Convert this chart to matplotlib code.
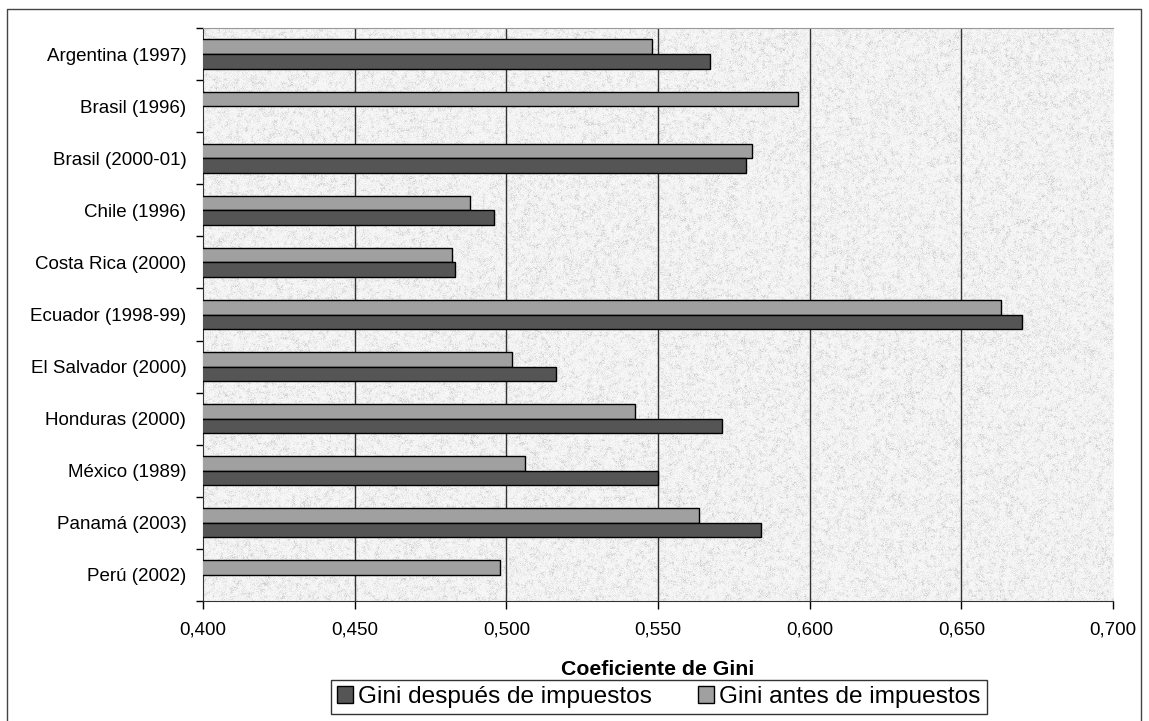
### Gini coefficient before and after taxes, horizontal bar chart
import numpy as np
import matplotlib
matplotlib.use('Agg')
import matplotlib.pyplot as plt
from matplotlib.patches import Patch
from matplotlib.lines import Line2D
from matplotlib.ticker import FuncFormatter, FixedLocator

plt.rcParams['font.family'] = ['Liberation Sans', 'DejaVu Sans']

## Data
paises = ['Argentina (1997)', 'Brasil (1996)', 'Brasil (2000-01)', 'Chile (1996)',
          'Costa Rica (2000)', 'Ecuador (1998-99)', 'El Salvador (2000)',
          'Honduras (2000)', 'México (1989)', 'Panamá (2003)', 'Perú (2002)']
gini_antes = [0.548, 0.596, 0.581, 0.488, 0.482, 0.663, 0.502, 0.5425, 0.506, 0.5635, 0.498]
gini_despues = [0.567, np.nan, 0.579, 0.496, 0.483, 0.670, 0.5165, 0.571, 0.550, 0.584, np.nan]
x_ticks = [0.400, 0.450, 0.500, 0.550, 0.600, 0.650, 0.700]

## Figure and axes
fig = plt.figure(figsize=(11.49, 7.21), dpi=100)
ax = fig.add_axes([0.1767, 0.1664, 0.792, 0.7948])

x0, x1 = x_ticks[0], x_ticks[-1]
n = len(paises)

## Granite-like grey background texture
rng = np.random.default_rng(7)
fine = rng.random((573, 910))
coarse = rng.random((191, 304))
coarse = np.kron(coarse, np.ones((3, 3)))[:573, :910]
k = np.ones(3) / 3.0
coarse = np.apply_along_axis(lambda r: np.convolve(r, k, mode='same'), 1, coarse)
coarse = np.apply_along_axis(lambda c: np.convolve(c, k, mode='same'), 0, coarse)
tex = 0.55 * fine + 0.45 * coarse
tex = (tex - tex.min()) / (tex.max() - tex.min())
tex = 0.97 - 0.20 * tex ** 3
ax.imshow(tex, cmap='gray', vmin=0, vmax=1, extent=(x0, x1, n - 0.5, -0.5),
          aspect='auto', interpolation='nearest', zorder=0)

## Bars
h = 0.28
y = np.arange(n)
ax.barh(y - h / 2, gini_antes, height=h, left=0, color='#a0a0a0',
        edgecolor='black', linewidth=1.0, zorder=3)
ax.barh(y + h / 2, gini_despues, height=h, left=0, color='#555555',
        edgecolor='black', linewidth=1.0, zorder=3)

## Axes limits and grid
ax.set_xlim(x0, x1)
ax.set_ylim(n - 0.5, -0.5)
for xv in x_ticks[1:-1]:
    ax.axvline(xv, color='#333333', linewidth=1.0, zorder=1)

## Ticks
ax.set_xticks(x_ticks)
ax.xaxis.set_major_formatter(FuncFormatter(lambda v, p: ('%.3f' % v).replace('.', ',')))
ax.tick_params(axis='x', direction='out', length=6, width=1, pad=9, labelsize=13.5)

ax.set_yticks(y)
ax.set_yticklabels(paises)
ax.yaxis.set_minor_locator(FixedLocator(np.arange(n + 1) - 0.5))
ax.tick_params(axis='y', which='major', length=0, pad=12, labelsize=13.5)
ax.tick_params(axis='y', which='minor', direction='out', length=5, width=1)

## Spines
ax.spines['right'].set_visible(False)
ax.spines['top'].set_color('#999999')
ax.spines['top'].set_linewidth(0.8)
ax.spines['left'].set_color('#333333')
ax.spines['bottom'].set_color('#333333')

## Axis title
ax.set_xlabel('Coeficiente de Gini', fontsize=15.3, fontweight='bold', labelpad=15)

## Legend
handles = [Patch(facecolor='#555555', edgecolor='black', linewidth=1.0),
           Patch(facecolor='#a0a0a0', edgecolor='black', linewidth=1.0)]
leg = fig.legend(handles, ['Gini después de impuestos', 'Gini antes de impuestos'],
                 loc='center', bbox_to_anchor=(659 / 1149, 1 - 697 / 721), ncol=2,
                 fontsize=17.6, frameon=True, fancybox=False, borderpad=0.25,
                 handlelength=0.65, handleheight=0.65, handletextpad=0.2,
                 columnspacing=1.9, borderaxespad=0)
leg.get_frame().set_edgecolor('black')
leg.get_frame().set_linewidth(1.0)

## Outer chart frame
fw, fh = 1149.0, 721.0
frame_x = [7 / fw, 7 / fw, 1141 / fw, 1141 / fw]
frame_y = [0.0, 1 - 9 / fh, 1 - 9 / fh, 0.0]
fig.add_artist(Line2D(frame_x, frame_y, color='#444444', linewidth=1.0,
                      transform=fig.transFigure))

fig.savefig('out.png', dpi=100)
